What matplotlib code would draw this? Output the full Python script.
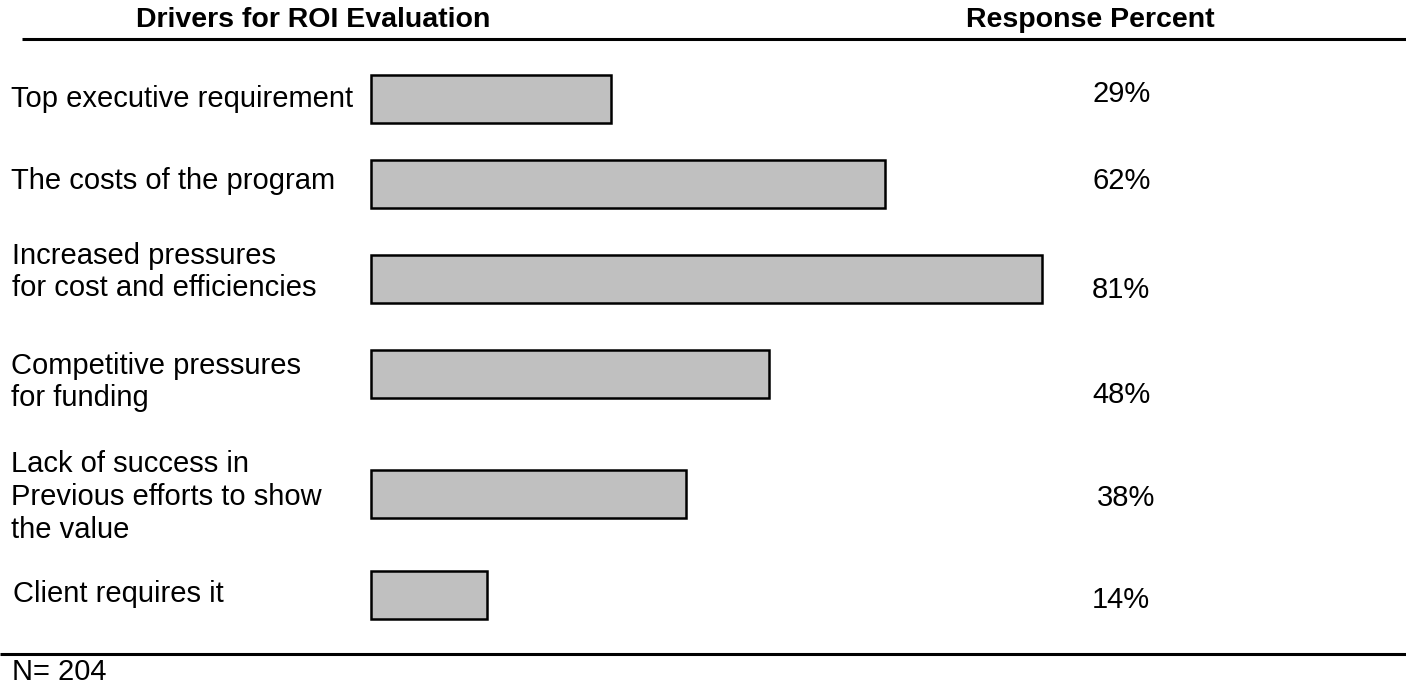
import matplotlib.pyplot as plt
import matplotlib.transforms as mtransforms

plt.rcParams['font.family'] = ['Liberation Sans', 'DejaVu Sans']

# Survey data
drivers = [
    'Top executive requirement',
    'The costs of the program',
    'Increased pressures\nfor cost and efficiencies',
    'Competitive pressures\nfor funding',
    'Lack of success in\nPrevious efforts to show\nthe value',
    'Client requires it',
]
response_pct = [29, 62, 81, 48, 38, 14]
sample_size = 204

# Layout (pixels from top of a 1406x688 canvas)
W, H = 1406, 688
bar_rows = [99, 183.5, 278.5, 373.5, 493.5, 595]
label_rows = [99, 181, 272, 382, 497, 594]
label_x = [11, 11, 12, 11, 11, 13]
pct_rows = [94, 181, 290, 395, 498, 600]
pct_x = [1092, 1092, 1092, 1092, 1097, 1092]
bar_left = 371
px_per_pct = 8.29
bar_height = 48

fig = plt.figure(figsize=(W / 100, H / 100), dpi=100)
ax = fig.add_axes([0, 0, 1, 1])
ax.set_xlim(-bar_left / px_per_pct, (W - bar_left) / px_per_pct)
ax.set_ylim(H, 0)
ax.axis('off')

ax.barh(bar_rows, response_pct, height=bar_height, left=0,
        color='#c0c0c0', edgecolor='black', linewidth=1.8)

# x as a fraction of the width, y in pixel rows
def xfrac(x):
    return x / W

trx = mtransforms.blended_transform_factory(ax.transAxes, ax.transData)

# Column headers and rules
ax.text(xfrac(313), 20, 'Drivers for ROI Evaluation', transform=trx,
        ha='center', va='center', fontsize=20.5, fontweight='bold')
ax.text(xfrac(1090), 20, 'Response Percent', transform=trx,
        ha='center', va='center', fontsize=20.5, fontweight='bold')
ax.plot([xfrac(22), 1], [39, 39], transform=trx, color='black', lw=2.2,
        solid_capstyle='butt', clip_on=False)
ax.plot([0, 1], [654, 654], transform=trx, color='black', lw=2.2,
        solid_capstyle='butt', clip_on=False)

for name, lx, ly in zip(drivers, label_x, label_rows):
    ax.text(xfrac(lx), ly, name, transform=trx, ha='left', va='center',
            fontsize=21, linespacing=1.22)

for val, px, py in zip(response_pct, pct_x, pct_rows):
    ax.text(xfrac(px), py, f'{val}%', transform=trx, ha='left', va='center',
            fontsize=21)

ax.text(xfrac(12), 672, f'N= {sample_size}', transform=trx, ha='left',
        va='center', fontsize=21)

fig.savefig('out.png', dpi=100)
